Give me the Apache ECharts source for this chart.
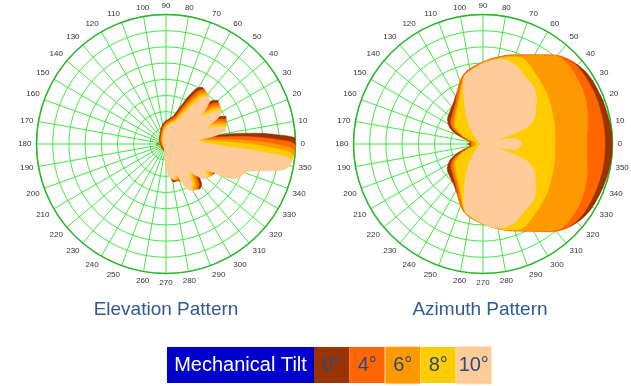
<!DOCTYPE html>
<html><head><meta charset="utf-8">
<script src="https://cdn.jsdelivr.net/npm/echarts@6/dist/echarts.min.js"></script>
<style>html,body{margin:0;padding:0;background:#fff}#c{width:631px;height:386px}</style>
</head><body><div id="c"></div>
<script>
// ---- legend / series names and colours ----
const tiltNames = ['0°', '4°', '6°', '8°', '10°'];
const tiltColors = ['#993300', '#ff6600', '#ff9900', '#ffcc00', '#ffcc99'];
const titles = ['Elevation Pattern', 'Azimuth Pattern'];
const legendTitle = 'Mechanical Tilt';

// ---- azimuth pattern (dB), angles 0..355 step 5 ----
const azAngles = [0,5,10,15,20,25,30,35,40,45,50,55,60,65,70,75,80,85,90,95,100,105,110,115,120,125,130,135,140,145,150,155,160,165,170,175,
  180,185,190,195,200,205,210,215,220,225,230,235,240,245,250,255,260,265,270,275,280,285,290,295,300,305,310,315,320,325,330,335,340,345,350,355];
const azTilt0 = [0,0,-0.3,-0.5,-0.6,-0.8,-0.9,-1.2,-1.9,-2.9,-4.5,-6.5,-8.3,-9.7,-10.8,-11.7,-12.8,-13.7,-14.7,-15.6,-16.5,-17.6,-19.6,-21.6,-23.0,-24.2,-25.0,-25.6,-26.1,-26.6,-27.6,-28.9,-31.4,-34.1,-36.0,-35.7,
  -35.4,-35.7,-36.0,-34.2,-31.5,-29.0,-27.6,-26.5,-26.0,-25.6,-25.1,-24.4,-23.3,-21.9,-20.0,-18.1,-17.0,-16.2,-15.3,-14.4,-13.5,-12.5,-11.5,-10.4,-9.0,-7.1,-5.0,-3.3,-2.2,-1.4,-1.0,-0.8,-0.6,-0.4,-0.2,0];
const azTilt4 = [-2.3,-2.3,-2.3,-2.3,-2.2,-2.2,-2.2,-2.2,-2.3,-2.9,-4.2,-6.3,-8.2,-9.6,-10.7,-11.6,-12.7,-13.6,-14.7,-15.6,-16.5,-17.5,-19.3,-21.5,-23.5,-25.0,-25.9,-26.7,-27.3,-27.8,-28.7,-30.4,-32.9,-35.1,-36.3,-36.1,
  -36.0,-36.1,-36.3,-35.2,-33.0,-30.5,-28.8,-27.9,-27.3,-26.8,-26.0,-25.1,-23.7,-21.8,-19.7,-18.0,-17.0,-16.1,-15.3,-14.4,-13.4,-12.4,-11.4,-10.3,-8.9,-6.9,-4.8,-3.3,-2.6,-2.3,-2.3,-2.3,-2.3,-2.3,-2.3,-2.3];
const azTilt6 = [-7.9,-7.7,-7.1,-6.5,-5.9,-5.3,-4.8,-4.5,-4.2,-4.0,-4.5,-6.5,-8.3,-9.9,-11.0,-11.9,-13.0,-13.9,-14.8,-15.8,-16.8,-17.9,-20.4,-22.7,-24.4,-25.8,-26.7,-27.5,-28.1,-28.7,-29.8,-31.5,-33.8,-36.0,-36.9,-36.8,
  -36.6,-36.8,-36.9,-36.1,-33.9,-31.6,-29.9,-28.8,-28.2,-27.6,-26.8,-25.9,-24.6,-22.9,-20.6,-18.2,-17.2,-16.2,-15.3,-14.4,-13.5,-12.4,-11.5,-10.4,-9.0,-7.1,-5.1,-4.3,-4.4,-4.7,-5.0,-5.5,-6.1,-6.7,-7.3,-7.8];
const azTilt8 = [-17.8,-17.6,-17.5,-17.1,-16.8,-16.4,-15.9,-15.3,-14.7,-14.1,-13.4,-12.7,-11.6,-10.8,-11.4,-12.2,-13.3,-14.2,-15.1,-16.1,-17.1,-18.2,-20.8,-23.3,-25.0,-26.4,-27.3,-28.1,-28.7,-29.3,-30.6,-32.3,-34.6,-36.8,-37.7,-38.0,
  -38.1,-38.0,-37.7,-36.9,-34.7,-32.5,-30.8,-29.5,-28.8,-28.2,-27.4,-26.5,-25.2,-23.5,-21.0,-18.4,-17.3,-16.3,-15.4,-14.5,-13.6,-12.6,-11.8,-11.2,-11.9,-12.8,-13.5,-14.2,-14.8,-15.4,-16.0,-16.5,-16.9,-17.2,-17.5,-17.7];
const azTilt10 = [-28.0,-28.4,-29.8,-35.7,-26.1,-23.0,-21.2,-20.1,-18.4,-17.1,-16.2,-15.8,-15.1,-14.1,-13.4,-13.1,-13.4,-14.1,-15.1,-16.2,-17.1,-18.1,-22.1,-26.4,-29.5,-32.0,-34.1,-35.7,-36.8,-37.5,-38.1,-38.6,-38.9,-39.1,-39.2,-39.4,
  -39.4,-39.4,-39.2,-39.1,-38.9,-38.6,-38.1,-37.6,-36.9,-35.8,-34.3,-32.2,-29.7,-26.7,-22.5,-18.5,-17.3,-16.4,-15.4,-14.3,-13.7,-13.4,-13.6,-14.3,-15.3,-16.0,-16.4,-17.3,-18.6,-20.3,-21.4,-23.2,-26.3,-35.7,-29.9,-28.5];

// ---- elevation pattern: [angle deg (negative = below horizon), dB] ----
const elevTilt0 = [[-180,-36.9],[-175.5,-38.2],[-140,-38.2],[-102.5,-37.6],[-90.5,-35],[-84.5,-31],[-78.5,-28],[-72.5,-28],[-67.5,-27.7],[-62.5,-28.9],[-58.5,-25.8],[-53.5,-22.7],[-48.5,-23.4],[-44.5,-25.8],[-40.5,-27.7],[-36.5,-24.9],[-32.5,-22.7],[-28.5,-22.4],[-24.5,-24.6],[-21.5,-21.8],[-18.5,-15.9],[-15.5,-13.8],[-11.5,-13.5],[-8.5,-11.6],[-5.5,-6.7],[-3,-1.7],[-0.5,-0.1],[1,0],[2.5,0],[3.5,-1.6],[5,-6.2],[6.5,-10.8],[8.5,-17.8],[10.8,-25.2],[13,-27.6],[15.5,-28.4],[18.5,-24],[21.5,-20.3],[24.5,-19.6],[27.5,-21.5],[30.5,-25.5],[33.5,-23.4],[36.5,-20.3],[39.5,-19],[42.5,-20],[45.5,-23.4],[48.5,-24.9],[51.5,-21.8],[54.5,-19.6],[57.5,-19.2],[60.5,-20],[64.5,-23.4],[69.5,-28],[75.5,-31.1],[84.5,-32.3],[94.5,-33.2],[104.5,-34.5],[119.5,-36.3],[149.5,-37.6],[175.5,-38.2],[180,-36.9]];
const elevTilt4 = [[-180,-37],[-176,-38.5],[-140,-38.5],[-105,-37.9],[-93,-36.6],[-87,-34.2],[-81,-30.5],[-75,-28.3],[-70,-28],[-65,-29.2],[-61,-26.1],[-56,-23],[-51,-23.7],[-47,-26.1],[-43,-28],[-39,-25.2],[-35,-23],[-31,-22.7],[-27,-24.9],[-24,-22.1],[-21,-16.2],[-18,-14.1],[-14,-13.8],[-11,-11.9],[-8,-7],[-5.5,-2],[-3,-0.2],[-1.5,0],[0,-0.3],[1,-1.6],[2.5,-6.2],[4,-10.8],[6,-17.8],[8.3,-25.2],[10.5,-27.8],[13,-28.9],[16,-24.3],[19,-20.6],[22,-19.9],[25,-21.8],[28,-25.8],[31,-23.7],[34,-20.6],[37,-19.3],[40,-20.3],[43,-23.7],[46,-25.2],[49,-22.1],[52,-19.9],[55,-19.5],[58,-20.3],[62,-23.7],[67,-28.3],[73,-31.4],[82,-32.6],[92,-33.5],[102,-34.8],[117,-36.6],[147,-37.9],[176,-38.5],[180,-37]];
const elevTilt6 = [[-180,-38.8],[-140,-38.8],[-107.5,-38.2],[-95.5,-36.9],[-89.5,-34.5],[-83.5,-30.8],[-77.5,-28.6],[-72.5,-28.3],[-67.5,-29.5],[-63.5,-26.4],[-58.5,-23.3],[-53.5,-24],[-49.5,-26.4],[-45.5,-28.3],[-41.5,-25.5],[-37.5,-23.3],[-33.5,-23],[-29.5,-25.2],[-26.5,-22.4],[-23.5,-16.5],[-20.5,-14.4],[-16.5,-14.1],[-13.5,-12.2],[-10.5,-7.3],[-8,-2.3],[-5.5,-0.5],[-4,-0.2],[-2.5,-0.6],[-1.5,-1.8],[0,-6.5],[1.5,-11],[3.5,-18],[5.8,-25],[8,-28],[10.5,-29.2],[13.5,-24.6],[16.5,-20.9],[19.5,-20.2],[22.5,-22.1],[25.5,-26.1],[28.5,-24],[31.5,-20.9],[34.5,-19.6],[37.5,-20.6],[40.5,-24],[43.5,-25.5],[46.5,-22.4],[49.5,-20.2],[52.5,-19.8],[55.5,-20.6],[59.5,-24],[64.5,-28.6],[70.5,-31.7],[79.5,-32.9],[89.5,-33.8],[99.5,-35.1],[114.5,-36.9],[144.5,-38.2],[180,-38.8]];
const elevTilt8 = [[-180,-39],[-140,-39],[-110,-38.6],[-97.5,-37.2],[-91.5,-34.8],[-85.5,-31.1],[-79.5,-28.9],[-74.5,-28.6],[-69.5,-29.8],[-65.5,-26.7],[-60.5,-23.6],[-55.5,-24.3],[-51.5,-26.7],[-47.5,-28.6],[-43.5,-25.8],[-39.5,-23.6],[-35.5,-23.3],[-31.5,-25.5],[-28.5,-22.7],[-25.5,-16.8],[-22.5,-14.7],[-18.5,-14.4],[-15.5,-12.5],[-12.5,-7.6],[-10,-2.6],[-7.5,-0.8],[-6,-0.5],[-4.5,-0.9],[-3.5,-2.2],[-2,-7.5],[-0.5,-12.5],[1.5,-19],[3.8,-25.5],[6,-28.4],[8.5,-29.5],[11.5,-24.9],[14.5,-21.2],[17.5,-20.5],[20.5,-22.4],[23.5,-26.4],[26.5,-24.3],[29.5,-21.2],[32.5,-19.9],[35.5,-20.9],[38.5,-24.3],[41.5,-25.8],[44.5,-22.7],[47.5,-20.5],[50.5,-20.1],[53.5,-20.9],[57.5,-24.3],[62.5,-28.9],[68.5,-32],[77.5,-33.2],[87.5,-34.1],[97.5,-35.4],[112.5,-37.2],[142.5,-38.5],[180,-39]];
const elevTilt10 = [[-180,-39.1],[-140,-39.1],[-112,-38.8],[-100,-37.5],[-94,-35.1],[-88,-31.4],[-82,-29.2],[-77,-28.9],[-72,-30.1],[-68,-27.0],[-63,-23.9],[-58,-24.6],[-54,-27.0],[-50,-28.9],[-46,-26.1],[-42,-23.9],[-38,-23.6],[-34,-25.8],[-31,-23.0],[-28,-17.1],[-25,-15.0],[-21,-14.7],[-18,-12.8],[-15,-7.9],[-12.5,-2.9],[-10,-1.1],[-8.5,-0.8],[-7,-1.2],[-6,-2.6],[-5,-9.1],[-3.8,-14.5],[-2.3,-21.5],[0,-25.8],[3,-28.9],[6,-29.8],[9,-25.2],[12,-21.5],[15,-20.8],[18,-22.7],[21,-26.7],[24,-24.6],[27,-21.5],[30,-20.2],[33,-21.2],[36,-24.6],[39,-26.1],[42,-23.0],[45,-20.8],[48,-20.4],[51,-21.2],[55,-24.6],[60,-29.2],[66,-32.3],[75,-33.5],[85,-34.4],[95,-35.7],[110,-37.5],[140,-38.8],[180,-39.1]];

const elevData = [elevTilt0, elevTilt4, elevTilt6, elevTilt8, elevTilt10];
const azData = [azTilt0, azTilt4, azTilt6, azTilt8, azTilt10];

const FONT = 'Liberation Sans, Arial, sans-serif';
const GRID = '#44e844';
const RIM = '#2cb52c';

function angleAxis(i) {
  return {
    polarIndex: i, type: 'value', min: 0, max: 360, interval: 10,
    startAngle: 0, clockwise: false,
    axisLine: { show: true, lineStyle: { color: RIM, width: 1.5 } },
    axisTick: { show: false },
    axisLabel: { show: true, margin: 5, color: '#333', fontSize: 8, fontFamily: FONT,
      formatter: v => (v >= 360 ? '' : String(v)) },
    splitLine: { show: true, lineStyle: { color: GRID, width: 1 } },
    z: 1
  };
}
function radiusAxis(i) {
  return {
    polarIndex: i, type: 'value', min: -40, max: 0, interval: 5,
    axisLine: { show: false }, axisTick: { show: false }, axisLabel: { show: false },
    splitLine: { show: true, lineStyle: { color: GRID, width: 1 } },
    z: 1
  };
}

const series = [];
elevData.forEach((arr, k) => {
  series.push({
    type: 'line', coordinateSystem: 'polar', polarIndex: 0, name: tiltNames[k],
    data: arr.map(([a, v]) => [v, (a + 360) % 360]),
    smooth: 0.3, symbol: 'none', silent: true, clip: false,
    lineStyle: { width: 0.5, color: tiltColors[k] },
    areaStyle: { color: tiltColors[k], opacity: 1, origin: 'start' },
    z: 3 + k
  });
});
azData.forEach((arr, k) => {
  const d = azAngles.map((a, j) => [arr[j], a]);
  d.push([arr[0], 360]);
  series.push({
    type: 'line', coordinateSystem: 'polar', polarIndex: 1, name: tiltNames[k],
    data: d,
    smooth: 0.3, symbol: 'none', silent: true, clip: false,
    lineStyle: { width: 0.5, color: tiltColors[k] },
    areaStyle: { color: tiltColors[k], opacity: 1, origin: 'start' },
    z: 3 + k
  });
});

// legend bar built from names / colours
const graphics = [
  { type: 'text', x: 166, y: 309.5, style: { text: titles[0], fill: '#2f5a94', fontSize: 19, fontFamily: FONT, align: 'center', verticalAlign: 'middle' } },
  { type: 'text', x: 480, y: 309.5, style: { text: titles[1], fill: '#2f5a94', fontSize: 19, fontFamily: FONT, align: 'center', verticalAlign: 'middle' } },
  { type: 'rect', shape: { x: 167, y: 347, width: 147, height: 36 }, style: { fill: '#0000cc' } },
  { type: 'text', x: 240.5, y: 365.5, style: { text: legendTitle, fill: '#ffffff', fontSize: 20, fontFamily: FONT, align: 'center', verticalAlign: 'middle' } }
];
const boxX = [314, 349.5, 385, 420.5, 456];
tiltNames.forEach((n, k) => {
  const bordered = (k === 2 || k === 4);
  graphics.push({ type: 'rect', shape: { x: boxX[k], y: bordered ? 346.5 : 347, width: 35.5, height: bordered ? 37.5 : 36 },
    style: { fill: tiltColors[k], stroke: bordered ? '#ffe2b8' : null, lineWidth: bordered ? 1 : 0 } });
  graphics.push({ type: 'text', x: boxX[k] + 17.75, y: 365.5, style: { text: n, fill: '#2a4a86', fontSize: 20, fontFamily: FONT, align: 'center', verticalAlign: 'middle' } });
});

const chart = echarts.init(document.getElementById('c'), null, { renderer: 'canvas' });
chart.setOption({
  animation: false,
  backgroundColor: '#ffffff',
  polar: [ { center: [166, 144], radius: 129.5 }, { center: [483, 144], radius: 129.5 } ],
  angleAxis: [angleAxis(0), angleAxis(1)],
  radiusAxis: [radiusAxis(0), radiusAxis(1)],
  series: series,
  graphic: graphics
});
</script></body></html>
